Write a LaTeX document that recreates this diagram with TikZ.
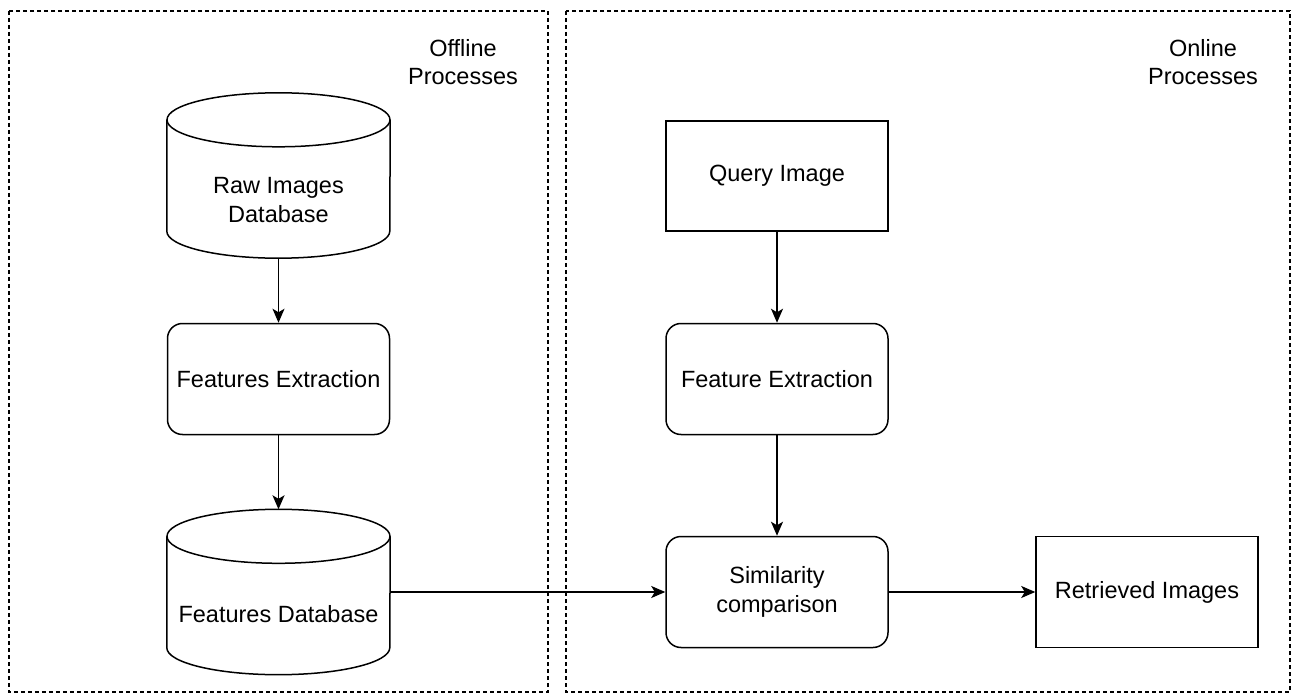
\documentclass[tikz,border=0pt]{standalone}
\usepackage{fontspec}
\setmainfont{Liberation Sans}
\usetikzlibrary{arrows.meta}
\tikzset{
  every node/.style={font=\fontsize{23.5}{28.5}\selectfont, align=center, inner sep=0pt},
  region/.style={draw, line width=1.2pt, dash pattern=on 4pt off 3pt},
  procbox/.style={draw, line width=1.5pt, rounded corners=15pt, minimum width=222pt, minimum height=111pt},
  plainbox/.style={draw, line width=1.5pt, minimum width=222pt, minimum height=110pt},
  dbhold/.style={minimum width=223pt, minimum height=165pt},
  dbline/.style={line width=1.5pt},
  conn/.style={line width=1.5pt, -{Stealth[length=14pt,width=12pt,inset=3.5pt]}},
}
\newcommand{\dbshape}[1]{%
  \draw[dbline] ([yshift=-27pt]#1.north west) -- ([yshift=27pt]#1.south west)
    arc[start angle=180, end angle=360, x radius=111.5pt, y radius=27pt]
    -- ([yshift=-27pt]#1.north east);
  \draw[dbline] ([yshift=-27pt]#1.north) ellipse[x radius=111.5pt, y radius=27pt];
}
\begin{document}
\begin{tikzpicture}[x=1pt,y=-1pt]
\useasboundingbox (0,0) rectangle (1296,695);
% regions
\draw[region] (9,11) rectangle (548,692);
\draw[region] (566,11) rectangle (1290,692);
\node (offlbl) at (463,62) {Offline\\Processes};
\node (onlbl) at (1203,62) {Online\\Processes};
% offline
\node[dbhold] (rawdb) at (278.5,175.5) {};
\dbshape{rawdb}
\node (rawtxt) at (278.5,200) {Raw Images\\Database};
\node[procbox] (fext) at (278.5,379) {Features Extraction};
\node[dbhold] (featdb) at (278.5,592) {};
\dbshape{featdb}
\node (feattxt) at (278.5,614) {Features Database};
% online
\node[plainbox] (query) at (777,176) {Query Image};
\node[procbox] (qext) at (777,379) {Feature Extraction};
\node[procbox] (sim) at (777,592) {Similarity\\comparison};
\node[plainbox, minimum height=111pt] (ret) at (1147,592) {Retrieved Images};
% connectors
\draw[conn] (rawdb.south) -- (fext.north);
\draw[conn] (fext.south) -- (featdb.north);
\draw[conn] (featdb.east) -- (sim.west);
\draw[conn] (query.south) -- (qext.north);
\draw[conn] (qext.south) -- (sim.north);
\draw[conn] (sim.east) -- (ret.west);
\end{tikzpicture}
\end{document}
